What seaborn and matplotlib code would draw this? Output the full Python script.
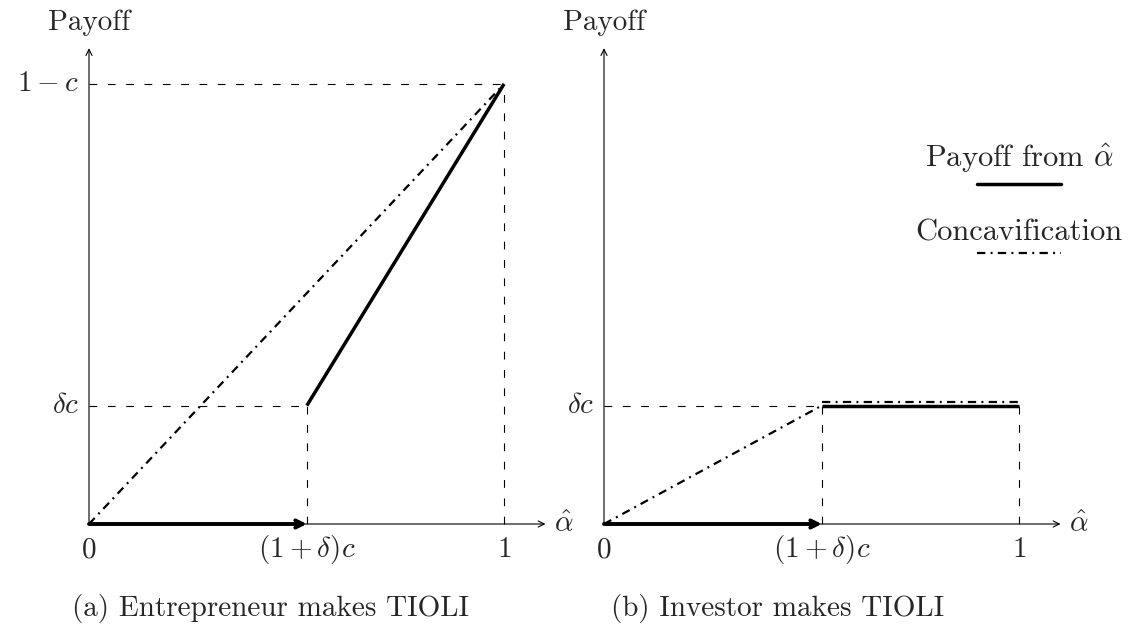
import matplotlib
matplotlib.use("Agg")
import matplotlib.pyplot as plt
import matplotlib.transforms as mtransforms
from matplotlib.lines import Line2D
import pandas as pd
import seaborn as sns

# Key points of the payoff diagrams: c = 0.35, delta = 0.5
alpha_break = 0.525      # (1 + delta) c
alpha_max = 1.0
payoff_low = 0.175       # delta c
payoff_high = 0.65       # 1 - c

# Panel (a): entrepreneur makes TIOLI
a_payoff_x = [alpha_break, alpha_max]
a_payoff_y = [payoff_low, payoff_high]
a_concav_x = [0.0, alpha_max]
a_concav_y = [0.0, payoff_high]

# Panel (b): investor makes TIOLI
b_payoff_x = [alpha_break, alpha_max]
b_payoff_y = [payoff_low, payoff_low]
b_concav_x = [0.0, alpha_break, alpha_max]
b_concav_y = [0.0, payoff_low, payoff_low]

x_tick_values = [0.0, alpha_break, alpha_max]
x_tick_labels = [r"$0$", r"$(1+\delta)c$", r"$1$"]
a_y_tick_values = [payoff_low, payoff_high]
a_y_tick_labels = [r"$\delta c$", r"$1-c$"]
b_y_tick_values = [payoff_low]
b_y_tick_labels = [r"$\delta c$"]

captions = ["(a) Entrepreneur makes TIOLI", "(b) Investor makes TIOLI"]
legend_labels = [r"Payoff from $\hat{\alpha}$", "Concavification"]

sns.set_theme(style="white")
plt.rcParams["font.family"] = ["cmr10", "DejaVu Serif"]
plt.rcParams["mathtext.fontset"] = "cm"
plt.rcParams["axes.unicode_minus"] = False
plt.rcParams["lines.scale_dashes"] = False

FS = 21
FS_LEGEND = 22
DASHED = (0, (5.6, 7.6))
DASHDOT = (0, (6.0, 3.8, 1.4, 3.8))
LW_THIN = 0.8
LW_HULL = 1.6
LW_PAY = 2.5
X_END = 1.10
Y_END = 0.703

fig = plt.figure(figsize=(11.34, 6.28), dpi=100)
# both panels share the same data scale: 415 px per unit in x, 677 px per unit in y
ax_a = fig.add_axes([0.0, 0.0, 0.5, 1.0])
ax_b = fig.add_axes([0.5, 0.0, 0.5, 1.0])
ax_a.set_xlim(-89 / 415, (567 - 89) / 415)
ax_b.set_xlim((567 - 604) / 415, (1134 - 604) / 415)
for ax in (ax_a, ax_b):
    ax.set_ylim(-(628 - 524) / 676.9, 524 / 676.9)
    ax.set_axis_off()


def guide(ax, xs, ys):
    ax.plot(xs, ys, color="black", lw=LW_THIN, ls=DASHED, zorder=1)


def draw_axes(ax, yticks, ylabels):
    arrow = dict(arrowstyle="->", lw=LW_THIN, color="black", shrinkA=0, shrinkB=0,
                 mutation_scale=11)
    ax.annotate("", xy=(X_END, 0), xytext=(0, 0), arrowprops=arrow)
    ax.annotate("", xy=(0, Y_END), xytext=(0, 0), arrowprops=arrow)
    ax.annotate("Payoff", xy=(0, Y_END), xytext=(0, 13), textcoords="offset points",
                ha="center", va="baseline", fontsize=FS)
    ax.annotate(r"$\hat{\alpha}$", xy=(X_END, 0), xytext=(6, 0), textcoords="offset points",
                ha="left", va="center", fontsize=FS)
    for xv, lab in zip(x_tick_values, x_tick_labels):
        ax.annotate(lab, xy=(xv, 0), xytext=(0, -24), textcoords="offset points",
                    ha="center", va="baseline", fontsize=FS)
    for yv, lab in zip(yticks, ylabels):
        ax.annotate(lab, xy=(0, yv), xytext=(-7, 0), textcoords="offset points",
                    ha="right", va="center", fontsize=FS)
    # thick arrow along the horizontal axis up to (1+delta)c
    ax.annotate("", xy=(alpha_break, 0), xytext=(0, 0),
                arrowprops=dict(arrowstyle="->", lw=2.8, color="black",
                                shrinkA=0, shrinkB=0, mutation_scale=13),
                zorder=5)


# ---- panel (a)
guide(ax_a, [0, alpha_max], [payoff_high, payoff_high])
guide(ax_a, [alpha_max, alpha_max], [0, payoff_high])
guide(ax_a, [0, alpha_break], [payoff_low, payoff_low])
guide(ax_a, [alpha_break, alpha_break], [0, payoff_low])
draw_axes(ax_a, a_y_tick_values, a_y_tick_labels)

df_a_pay = pd.DataFrame({"alpha": a_payoff_x, "payoff": a_payoff_y})
df_a_con = pd.DataFrame({"alpha": a_concav_x, "payoff": a_concav_y})
sns.lineplot(data=df_a_con, x="alpha", y="payoff", ax=ax_a, color="black",
             lw=LW_HULL, linestyle=DASHDOT, legend=False)
sns.lineplot(data=df_a_pay, x="alpha", y="payoff", ax=ax_a, color="black",
             lw=LW_PAY, legend=False, solid_capstyle="butt")

# ---- panel (b)
guide(ax_b, [0, alpha_break], [payoff_low, payoff_low])
guide(ax_b, [alpha_break, alpha_break], [0, payoff_low])
guide(ax_b, [alpha_max, alpha_max], [0, payoff_low])
draw_axes(ax_b, b_y_tick_values, b_y_tick_labels)

df_b_pay = pd.DataFrame({"alpha": b_payoff_x, "payoff": b_payoff_y})
df_b_rise = pd.DataFrame({"alpha": b_concav_x[:2], "payoff": b_concav_y[:2]})
df_b_flat = pd.DataFrame({"alpha": b_concav_x[1:], "payoff": b_concav_y[1:]})
sns.lineplot(data=df_b_rise, x="alpha", y="payoff", ax=ax_b, color="black",
             lw=LW_HULL, linestyle=DASHDOT, legend=False)
# the flat part of the hull is lifted slightly so it stays visible above the payoff line
lifted = ax_b.transData + mtransforms.ScaledTranslation(0, 2.5 / 72, fig.dpi_scale_trans)
flat = sns.lineplot(data=df_b_flat, x="alpha", y="payoff", ax=ax_b, color="black",
                    lw=LW_HULL, linestyle=DASHDOT, legend=False)
flat.lines[-1].set_transform(lifted)
sns.lineplot(data=df_b_pay, x="alpha", y="payoff", ax=ax_b, color="black",
             lw=LW_PAY, legend=False, solid_capstyle="butt")

# legend: labels stacked above their line samples
leg_x = 1019 / 1134
fig.text(leg_x, 1 - 158 / 628, legend_labels[0], ha="center", va="center", fontsize=FS_LEGEND)
fig.add_artist(Line2D([977 / 1134, 1061 / 1134], [1 - 184 / 628] * 2,
                      transform=fig.transFigure, color="black", lw=LW_PAY))
fig.text(leg_x, 1 - 233 / 628, legend_labels[1], ha="center", va="center", fontsize=FS_LEGEND)
fig.add_artist(Line2D([977 / 1134, 1061 / 1134], [1 - 253 / 628] * 2,
                      transform=fig.transFigure, color="black", lw=LW_HULL, ls=DASHDOT))

# captions
fig.text(271 / 1134, 1 - 616 / 628, captions[0], ha="center", va="baseline", fontsize=FS)
fig.text(778 / 1134, 1 - 616 / 628, captions[1], ha="center", va="baseline", fontsize=FS)

fig.savefig("out.png", dpi=100, facecolor="white")
